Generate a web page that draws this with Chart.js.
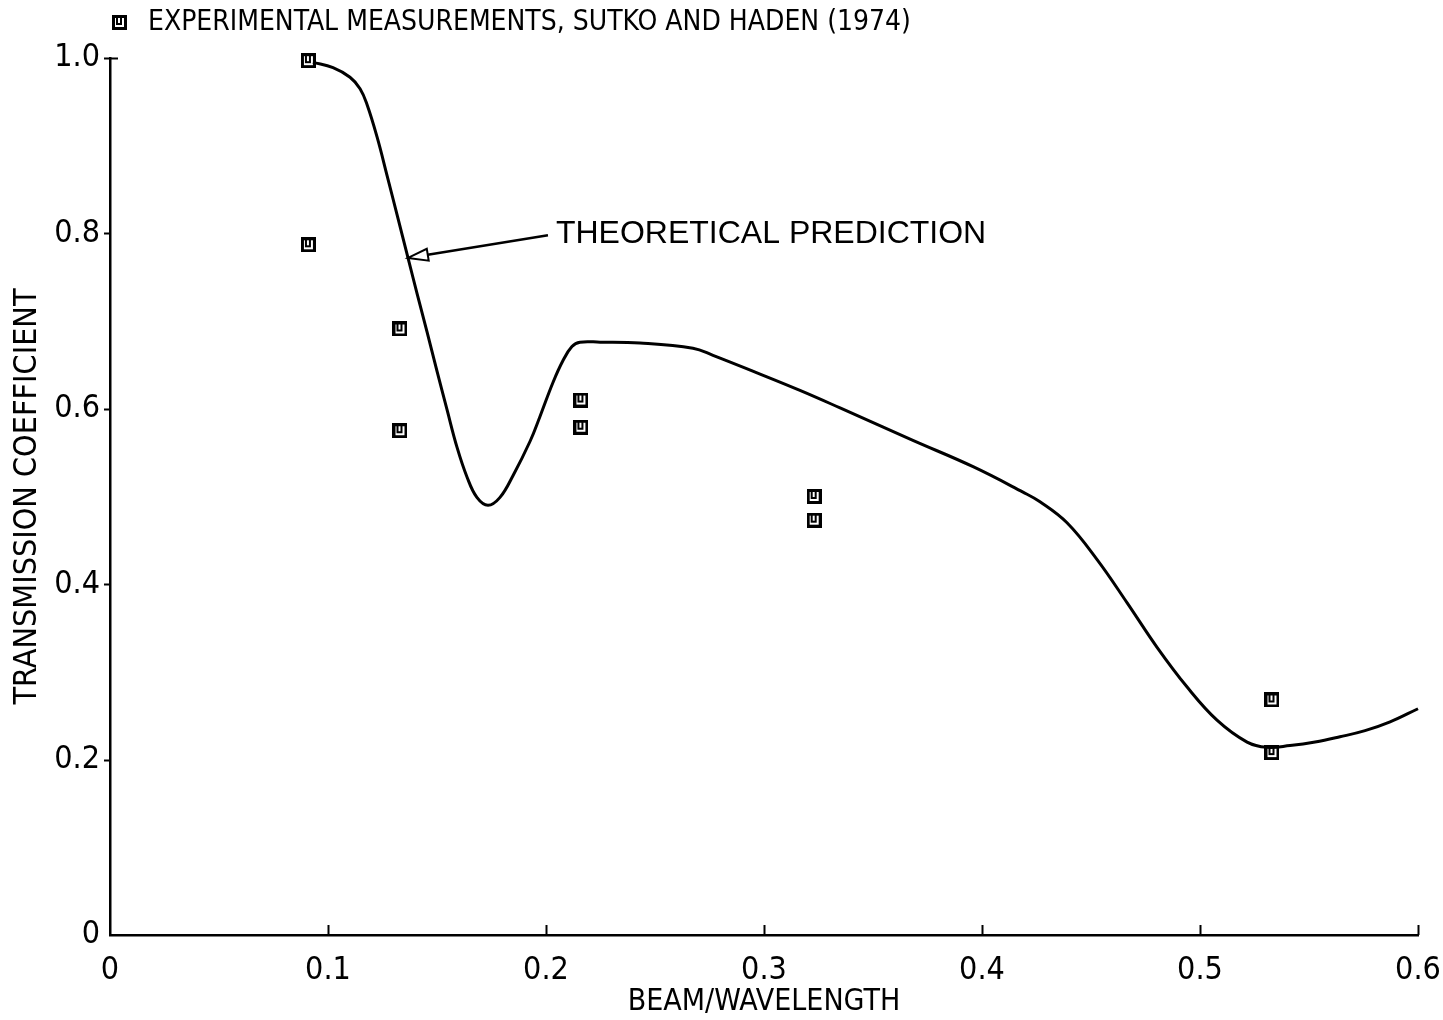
<!DOCTYPE html>
<html>
<head>
<meta charset="utf-8">
<script src="https://cdn.jsdelivr.net/npm/chart.js@4/dist/chart.umd.min.js"></script>
<style>
  html, body { margin: 0; padding: 0; background: #fff; }
  #wrap { width: 1443px; height: 1020px; }
</style>
</head>
<body>
<div id="wrap"><canvas id="chart" width="1443" height="1020"></canvas></div>
<script>
// Theoretical transmission coefficient vs. beam/wavelength
const theoryX = [0.0931, 0.1023, 0.1101, 0.1147, 0.1179, 0.1225, 0.1271, 0.1317, 0.1367, 0.1408,
                 0.1454, 0.1500, 0.1546, 0.1592, 0.1638, 0.1683, 0.1734, 0.1789, 0.1849, 0.1927,
                 0.1972, 0.2032, 0.2078, 0.2119, 0.2156, 0.2248, 0.2431, 0.2674, 0.2766, 0.2968,
                 0.3165, 0.3349, 0.3683, 0.3959, 0.4188, 0.4266, 0.4390, 0.4528, 0.4665, 0.4803,
                 0.4940, 0.5078, 0.5216, 0.5307, 0.5413, 0.5528, 0.5642, 0.5757, 0.5872, 0.6000];
const theoryY = [0.995, 0.989, 0.978, 0.965, 0.947, 0.910, 0.866, 0.821, 0.772, 0.732,
                 0.688, 0.643, 0.599, 0.556, 0.522, 0.499, 0.490, 0.499, 0.524, 0.563,
                 0.591, 0.630, 0.655, 0.671, 0.676, 0.676, 0.675, 0.669, 0.661, 0.641,
                 0.621, 0.601, 0.564, 0.534, 0.505, 0.494, 0.470, 0.428, 0.379, 0.328,
                 0.283, 0.245, 0.220, 0.214, 0.216, 0.220, 0.226, 0.233, 0.243, 0.258];

// Experimental measurements, Sutko and Haden (1974)
const measX = [0.091, 0.091, 0.133, 0.133, 0.216, 0.216, 0.323, 0.323, 0.533, 0.533];
const measY = [0.997, 0.787, 0.691, 0.575, 0.610, 0.579, 0.500, 0.473, 0.268, 0.208];

// Axis ticks
const xTicks = [0, 0.1, 0.2, 0.3, 0.4, 0.5, 0.6];
const yTicks = [0, 0.2, 0.4, 0.6, 0.8, 1.0];
const xTickLabels = ['0', '0.1', '0.2', '0.3', '0.4', '0.5', '0.6'];
const yTickLabels = ['0', '0.2', '0.4', '0.6', '0.8', '1.0'];

const legendText = 'EXPERIMENTAL MEASUREMENTS, SUTKO AND HADEN (1974)';
const noteText = 'THEORETICAL PREDICTION';
// arrow tip sits on the curve, tail at the start of the note text (data coords)
const noteTip = { x: 0.1367, y: 0.772 };
const noteTail = { x: 0.2009, y: 0.798 };

const plotFont = "'Liberation Sans Narrow', 'DejaVu Sans Condensed', sans-serif";

// Plotter-style measurement symbol: a heavy square with a small cup mark inside
function makeSymbol(size) {
  const c = document.createElement('canvas');
  c.width = size; c.height = size;
  const g = c.getContext('2d');
  g.fillStyle = '#000';
  g.fillRect(0, 0, size, size);
  g.fillStyle = '#fff';
  g.fillRect(3, 3, size - 6, size - 6);
  g.fillStyle = '#000';
  const m = Math.floor(size / 2);
  g.fillRect(m - 3, 3, 2, 5);
  g.fillRect(m + 1, 3, 2, 5);
  g.fillRect(m - 3, 8, 6, 2);
  return c;
}
const symbol = makeSymbol(15);

const decor = {
  id: 'decor',
  afterDraw(chart) {
    const { ctx, scales: { x, y } } = chart;
    ctx.save();
    ctx.strokeStyle = '#000';
    ctx.fillStyle = '#000';
    ctx.lineWidth = 2;
    // tick marks: x inward (up), y outward (left)
    const x0 = x.getPixelForValue(0), yb = y.getPixelForValue(0);
    xTicks.forEach(v => {
      if (v === 0) return;
      const px = Math.round(x.getPixelForValue(v)) + 0.5;
      ctx.beginPath(); ctx.moveTo(px, yb); ctx.lineTo(px, yb - 10); ctx.stroke();
    });
    yTicks.forEach(v => {
      if (v === 0) return;
      const py = Math.round(y.getPixelForValue(v)) + 0.5;
      ctx.beginPath(); ctx.moveTo(x0 - 6, py); ctx.lineTo(x0, py); ctx.stroke();
    });
    const ytop = Math.round(y.getPixelForValue(1.0)) + 0.5;
    ctx.beginPath(); ctx.moveTo(x0, ytop); ctx.lineTo(x0 + 8, ytop); ctx.stroke();

    // legend line at the top
    ctx.drawImage(symbol, 112, 15);
    ctx.font = "28px " + plotFont;
    ctx.textBaseline = 'middle';
    ctx.textAlign = 'left';
    ctx.fillText(legendText, 148, 23);

    // annotation arrow with open triangular head
    const tx = x.getPixelForValue(noteTip.x), ty = y.getPixelForValue(noteTip.y);
    const sx = x.getPixelForValue(noteTail.x), sy = y.getPixelForValue(noteTail.y);
    const ang = Math.atan2(sy - ty, sx - tx);
    const headLen = 20, headW = 6;
    const bx = tx + headLen * Math.cos(ang), by = ty + headLen * Math.sin(ang);
    ctx.lineWidth = 2.5;
    ctx.beginPath(); ctx.moveTo(bx, by); ctx.lineTo(sx, sy); ctx.stroke();
    ctx.lineWidth = 2;
    ctx.beginPath();
    ctx.moveTo(tx, ty);
    ctx.lineTo(bx - headW * Math.sin(ang), by + headW * Math.cos(ang));
    ctx.lineTo(bx + headW * Math.sin(ang), by - headW * Math.cos(ang));
    ctx.closePath();
    ctx.fillStyle = '#fff'; ctx.fill();
    ctx.stroke();
    ctx.fillStyle = '#000';
    ctx.font = "32px 'Liberation Sans', 'DejaVu Sans', sans-serif";
    ctx.textBaseline = 'middle';
    ctx.fillText(noteText, sx + 8, sy - 1);
    ctx.restore();
  }
};

new Chart(document.getElementById('chart'), {
  type: 'scatter',
  data: {
    datasets: [
      {
        type: 'line',
        label: noteText,
        data: theoryX.map((v, i) => ({ x: v, y: theoryY[i] })),
        borderColor: '#000',
        borderWidth: 3,
        pointRadius: 0,
        tension: 0.4,
        fill: false,
        clip: false
      },
      {
        label: legendText,
        data: measX.map((v, i) => ({ x: v, y: measY[i] })),
        pointStyle: symbol,
        pointRadius: 8,
        clip: false
      }
    ]
  },
  options: {
    responsive: false,
    animation: false,
    devicePixelRatio: 1,
    layout: { padding: { top: 58, right: 25, left: 0, bottom: 0 } },
    plugins: { legend: { display: false }, tooltip: { enabled: false } },
    scales: {
      x: {
        type: 'linear', min: 0, max: 0.6,
        afterBuildTicks: s => { s.ticks = xTicks.map(v => ({ value: v })); },
        afterFit: s => { s.height = 85; s.paddingRight = 0; s.paddingLeft = 0; },
        grid: { display: false, drawTicks: false },
        border: { display: true, color: '#000', width: 2.5 },
        ticks: {
          color: '#000', padding: 16, autoSkip: false, maxRotation: 0,
          font: { family: plotFont, size: 32 },
          callback: (v, i) => xTickLabels[i]
        },
        title: {
          display: true, text: 'BEAM/WAVELENGTH', color: '#000',
          font: { family: plotFont, size: 30 }, padding: { top: 0, bottom: 0 }
        }
      },
      y: {
        type: 'linear', min: 0, max: 1.0,
        afterBuildTicks: s => { s.ticks = yTicks.map(v => ({ value: v })); },
        afterFit: s => { s.width = 110; s.paddingTop = 0; s.paddingBottom = 0; },
        grid: { display: false, drawTicks: false },
        border: { display: true, color: '#000', width: 2.5 },
        ticks: {
          color: '#000', padding: 10, autoSkip: false,
          font: { family: plotFont, size: 32 },
          callback: (v, i) => yTickLabels[i]
        },
        title: {
          display: true, text: 'TRANSMISSION COEFFICIENT', color: '#000',
          font: { family: plotFont, size: 32 }, padding: { top: 8, bottom: 0 }
        }
      }
    }
  },
  plugins: [decor]
});
</script>
</body>
</html>
